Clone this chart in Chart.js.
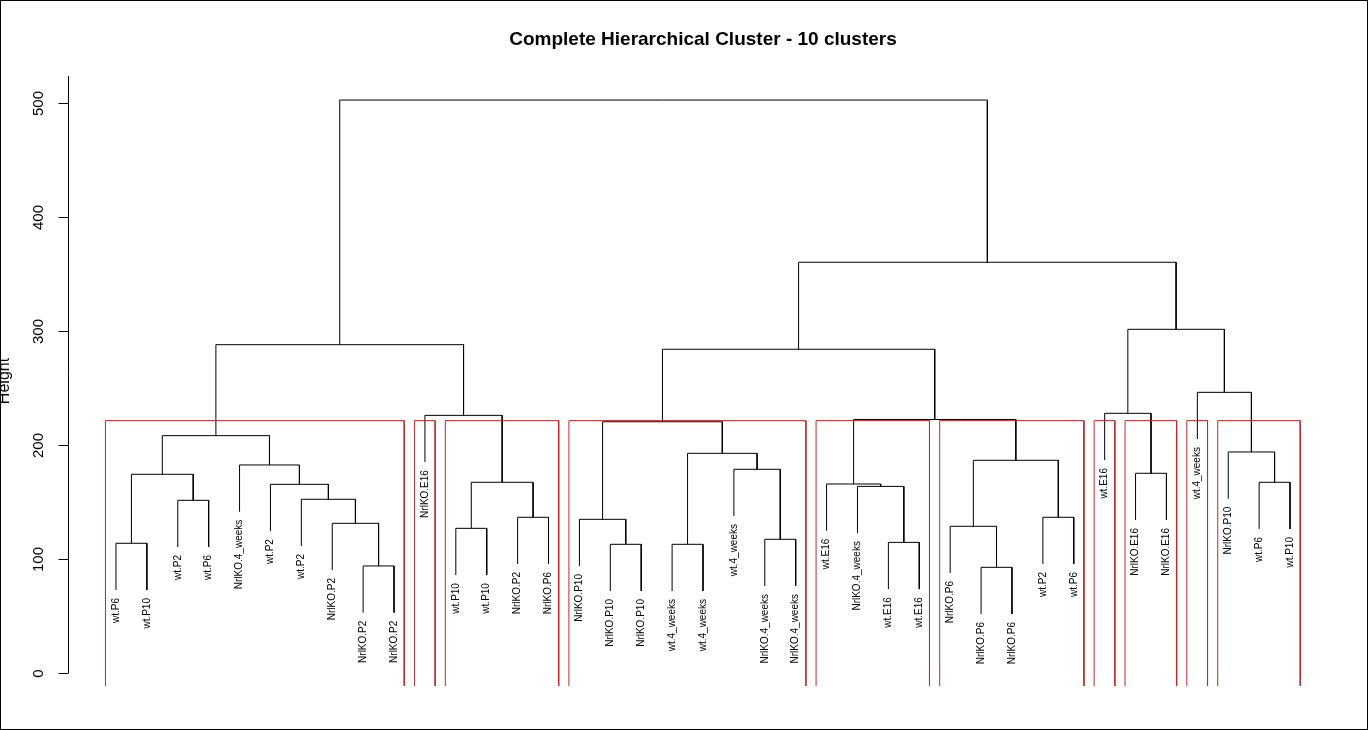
<!DOCTYPE html>
<html>
<head>
<meta charset="utf-8">
<script src="https://cdn.jsdelivr.net/npm/chart.js@4/dist/chart.umd.min.js"></script>
<style>
  html, body { margin: 0; padding: 0; background: #fff; }
  canvas { display: block; }
</style>
</head>
<body>
<canvas id="c" width="1368" height="730"></canvas>
<script>
// ---- Data ----
const titleText = "Complete Hierarchical Cluster - 10 clusters";
const yAxisTitle = "Height";
const yTicks = [0, 100, 200, 300, 400, 500];

// leaf labels in plotting order (positions 1..39)
const leafLabels = [
  "wt.P6", "wt.P10", "wt.P2", "wt.P6", "NrlKO.4_weeks", "wt.P2", "wt.P2", "NrlKO.P2", "NrlKO.P2", "NrlKO.P2",
  "NrlKO.E16",
  "wt.P10", "wt.P10", "NrlKO.P2", "NrlKO.P6",
  "NrlKO.P10", "NrlKO.P10", "NrlKO.P10", "wt.4_weeks", "wt.4_weeks", "wt.4_weeks", "NrlKO.4_weeks", "NrlKO.4_weeks",
  "wt.E16", "NrlKO.4_weeks", "wt.E16", "wt.E16",
  "NrlKO.P6", "NrlKO.P6", "NrlKO.P6", "wt.P2", "wt.P6",
  "wt.E16",
  "NrlKO.E16", "NrlKO.E16",
  "wt.4_weeks",
  "NrlKO.P10", "wt.P6", "wt.P10"
];

// merge table (hclust style): negative = leaf position, positive = earlier merge (1-based)
const mergeLeft  = [-1, -3, 1, -9, -8, -7, -6, -5, 3, -12, -14, 10, -11, 9,
                    -17, -16, -19, -22, -21, 17, 16, -26, -25, -24, -29, -28, -31, 26, 24, 21,
                    -34, -33, -38, -37, -36, 32, 30, 14];
const mergeRight = [-2, -4, 2, -10, 4, 5, 6, 7, 8, -13, -15, 11, 12, 13,
                    -18, 15, -20, -23, 18, 19, 20, -27, 22, 23, -30, 25, -32, 27, 28, 29,
                    -35, 31, -39, 33, 34, 35, 36, 37];
const mergeHeight = [113.8, 151.5, 174.3, 93.9, 131.3, 152.4, 165.5, 182.5, 208.2, 126.9, 136.6, 167.3, 226.0, 288.0,
                     112.9, 134.8, 112.9, 117.3, 178.7, 192.7, 220.4, 114.6, 163.7, 165.8, 92.7, 128.7, 136.6, 186.6, 222.4, 284.0,
                     175.2, 227.8, 167.3, 193.9, 246.2, 301.5, 360.3, 502.6];

// cluster sizes (10 clusters, left to right)
const clusterSizes = [10, 1, 4, 8, 4, 5, 1, 2, 1, 3];
const hangFraction = 0.1;

// ---- Build dendrogram segments from the merge table ----
const nLeaves = leafLabels.length;
const hMax = Math.max(...mergeHeight), hMin = Math.min(...mergeHeight);
const hang = hangFraction * (hMax - hMin);
const nodeX = [];           // x of merge nodes
const leafY = new Array(nLeaves + 1);
const dendroPts = [];
function childX(c) { return c < 0 ? -c : nodeX[c - 1]; }
for (let i = 0; i < mergeHeight.length; i++) {
  const l = mergeLeft[i], r = mergeRight[i], h = mergeHeight[i];
  const xl = childX(l), xr = childX(r);
  const yl = l < 0 ? h - hang : mergeHeight[l - 1];
  const yr = r < 0 ? h - hang : mergeHeight[r - 1];
  if (l < 0) leafY[-l] = yl;
  if (r < 0) leafY[-r] = yr;
  nodeX.push((xl + xr) / 2);
  dendroPts.push({x: xl, y: yl}, {x: xl, y: h}, {x: xr, y: h}, {x: xr, y: yr}, {x: xr, y: null});
}

// ---- Cluster rectangles (rect.hclust style) ----
const YMIN = -11.4, YMAX = 523.7;
const sortedH = [...mergeHeight].sort((a, b) => b - a);
const k = clusterSizes.length;
const rectTop = (sortedH[k - 2] + sortedH[k - 1]) / 2;
const rectPts = [];
let cum = 0;
clusterSizes.forEach(s => {
  const left = cum + 0.66, right = cum + s + 0.33;
  rectPts.push({x: left, y: YMIN}, {x: left, y: rectTop}, {x: right, y: rectTop}, {x: right, y: YMIN}, {x: right, y: null});
  cum += s;
});

// ---- Custom text / axis plugin ----
const FONT = '"Liberation Sans", Arial, sans-serif';
const decor = {
  id: 'decor',
  afterDraw(chart) {
    const ctx = chart.ctx, xs = chart.scales.x, ys = chart.scales.y, ca = chart.chartArea;
    ctx.save();
    // frame around the figure
    ctx.strokeStyle = '#000'; ctx.lineWidth = 1;
    ctx.strokeRect(0.5, 0.5, chart.width - 1, chart.height - 1);
    // title
    ctx.fillStyle = '#000';
    ctx.font = 'bold 19px ' + FONT;
    ctx.textAlign = 'center'; ctx.textBaseline = 'middle';
    ctx.fillText(titleText, (ca.left + ca.right) / 2, 40);
    // y axis line and ticks
    const ax = Math.round(ca.left) - 0.5;
    ctx.beginPath();
    ctx.moveTo(ax, ys.getPixelForValue(yTicks[0]));
    ctx.lineTo(ax, ca.top);
    ctx.stroke();
    ctx.font = '15px ' + FONT;
    yTicks.forEach(t => {
      const py = Math.round(ys.getPixelForValue(t)) + 0.5;
      ctx.beginPath(); ctx.moveTo(ax - 10, py); ctx.lineTo(ax, py); ctx.stroke();
      ctx.save(); ctx.translate(39, py); ctx.rotate(-Math.PI / 2);
      ctx.textAlign = 'center'; ctx.textBaseline = 'middle';
      ctx.fillText(String(t), 0, 0);
      ctx.restore();
    });
    // y axis title (partly cut off at the left edge as in the reference)
    ctx.save(); ctx.translate(9, (ca.top + ca.bottom) / 2); ctx.rotate(-Math.PI / 2);
    ctx.font = '16px ' + FONT; ctx.textAlign = 'center'; ctx.textBaseline = 'alphabetic';
    ctx.fillText(yAxisTitle, 0, 0);
    ctx.restore();
    // leaf labels
    ctx.font = '10px ' + FONT;
    leafLabels.forEach((lab, i) => {
      const px = xs.getPixelForValue(i + 1);
      const py = ys.getPixelForValue(leafY[i + 1]) + 8;
      ctx.save(); ctx.translate(px, py); ctx.rotate(-Math.PI / 2);
      ctx.textAlign = 'right'; ctx.textBaseline = 'middle';
      ctx.fillText(lab, 0, 0);
      ctx.restore();
    });
    ctx.restore();
  }
};

new Chart(document.getElementById('c'), {
  type: 'scatter',
  data: {
    datasets: [
      {data: rectPts, showLine: true, borderColor: '#C62828', borderWidth: 1, pointRadius: 0, spanGaps: false, order: 0},
      {data: dendroPts, showLine: true, borderColor: '#000000', borderWidth: 1, pointRadius: 0, spanGaps: false, order: 1}
    ]
  },
  options: {
    responsive: false,
    animation: false,
    devicePixelRatio: 1,
    layout: {padding: {left: 69, right: 31, top: 76, bottom: 44}},
    scales: {
      x: {type: 'linear', min: -0.52, max: 40.52, display: false},
      y: {type: 'linear', min: YMIN, max: YMAX, display: false}
    },
    plugins: {legend: {display: false}, tooltip: {enabled: false}, title: {display: false}}
  },
  plugins: [decor]
});
</script>
</body>
</html>
